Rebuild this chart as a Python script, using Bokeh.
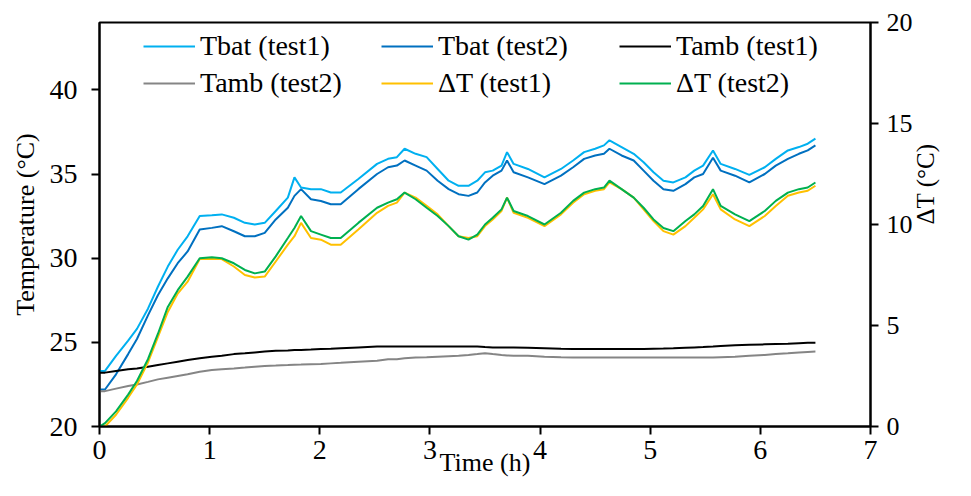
import math
from bokeh.plotting import figure
from bokeh.models import Range1d, LinearAxis, FixedTicker, Legend, LegendItem
from bokeh.embed import file_html
from bokeh.resources import INLINE

# ---- data ----
time_h = [0, 0.05, 0.15, 0.26, 0.34, 0.44, 0.53, 0.62, 0.71, 0.80,
          0.91, 1.02, 1.11, 1.22, 1.32, 1.41, 1.50, 1.60, 1.71, 1.77,
          1.83, 1.92, 2.01, 2.10, 2.19, 2.35, 2.52, 2.62, 2.70, 2.77,
          2.87, 2.97, 3.07, 3.17, 3.26, 3.35, 3.43, 3.50, 3.57, 3.65,
          3.70, 3.76, 3.89, 4.04, 4.19, 4.30, 4.40, 4.50, 4.58, 4.63,
          4.74, 4.85, 4.94, 5.03, 5.12, 5.21, 5.32, 5.40, 5.48, 5.57,
          5.64, 5.77, 5.90, 6.04, 6.14, 6.25, 6.35, 6.43, 6.50]

tbat_test1 = [23.3, 23.3, 24.2, 25.1, 25.8, 27.0, 28.3, 29.5, 30.5, 31.3,
              32.5, 32.55, 32.6, 32.4, 32.1, 32.0, 32.1, 32.8, 33.6, 34.8,
              34.2, 34.1, 34.1, 33.9, 33.9, 34.7, 35.6, 35.9, 36.0, 36.5,
              36.2, 36.0, 35.3, 34.6, 34.3, 34.3, 34.6, 35.1, 35.2, 35.5,
              36.3, 35.6, 35.3, 34.8, 35.3, 35.8, 36.3, 36.5, 36.7, 37.0,
              36.6, 36.2, 35.7, 35.1, 34.6, 34.5, 34.8, 35.2, 35.5, 36.4,
              35.6, 35.3, 34.95, 35.4, 35.9, 36.4, 36.6, 36.8, 37.1]

tbat_test2 = [22.2, 22.2, 23.1, 24.3, 25.2, 26.6, 27.8, 28.8, 29.7, 30.4,
              31.7, 31.8, 31.9, 31.6, 31.3, 31.3, 31.5, 32.3, 33.0, 33.7,
              34.1, 33.5, 33.4, 33.2, 33.2, 34.1, 35.0, 35.4, 35.5, 35.8,
              35.5, 35.2, 34.6, 34.1, 33.8, 33.7, 33.9, 34.5, 34.9, 35.2,
              35.8, 35.1, 34.8, 34.4, 34.9, 35.4, 35.9, 36.1, 36.2, 36.5,
              36.1, 35.8, 35.2, 34.6, 34.1, 34.0, 34.4, 34.8, 35.0, 35.96,
              35.2, 34.9, 34.5, 35.0, 35.5, 35.9, 36.2, 36.4, 36.7]

tamb_test1 = [23.2, 23.2, 23.3, 23.4, 23.45, 23.55, 23.65, 23.75, 23.85, 23.95,
              24.05, 24.15, 24.2, 24.3, 24.35, 24.4, 24.45, 24.5, 24.52, 24.55,
              24.55, 24.57, 24.6, 24.62, 24.65, 24.7, 24.75, 24.75, 24.75, 24.75,
              24.75, 24.75, 24.75, 24.75, 24.75, 24.75, 24.75, 24.72, 24.7, 24.7,
              24.7, 24.7, 24.68, 24.65, 24.62, 24.6, 24.6, 24.6, 24.6, 24.6,
              24.6, 24.6, 24.6, 24.62, 24.63, 24.65, 24.68, 24.7, 24.72, 24.75,
              24.78, 24.82, 24.85, 24.88, 24.9, 24.92, 24.95, 24.97, 24.98]

tamb_test2 = [22.1, 22.1, 22.25, 22.4, 22.5, 22.65, 22.8, 22.9, 23.0, 23.1,
              23.25, 23.35, 23.4, 23.45, 23.5, 23.55, 23.6, 23.62, 23.65, 23.67,
              23.68, 23.7, 23.72, 23.75, 23.78, 23.85, 23.9, 24.0, 24.0, 24.05,
              24.1, 24.12, 24.15, 24.18, 24.2, 24.25, 24.3, 24.35, 24.3, 24.25,
              24.22, 24.2, 24.2, 24.15, 24.12, 24.1, 24.1, 24.1, 24.1, 24.1,
              24.1, 24.1, 24.1, 24.1, 24.1, 24.1, 24.1, 24.1, 24.1, 24.1,
              24.12, 24.15, 24.2, 24.25, 24.3, 24.35, 24.4, 24.43, 24.45]

dt_test1 = [0, 0, 0.58, 1.42, 2.08, 3.17, 4.42, 5.67, 6.58, 7.17,
            8.29, 8.29, 8.29, 7.92, 7.5, 7.38, 7.42, 8.17, 9.0, 9.42,
            10.08, 9.33, 9.25, 9.0, 9.0, 9.75, 10.58, 10.92, 11.08, 11.58,
            11.33, 10.92, 10.5, 9.92, 9.42, 9.33, 9.42, 9.92, 10.25, 10.67,
            11.33, 10.58, 10.33, 9.92, 10.5, 11.08, 11.5, 11.67, 11.75, 12.08,
            11.75, 11.33, 10.75, 10.17, 9.67, 9.5, 9.92, 10.33, 10.75, 11.5,
            10.75, 10.25, 9.92, 10.42, 10.92, 11.42, 11.58, 11.67, 11.92]

dt_test2 = [0, 0.17, 0.75, 1.58, 2.25, 3.33, 4.58, 5.92, 6.75, 7.42,
            8.33, 8.38, 8.33, 8.08, 7.75, 7.58, 7.67, 8.42, 9.33, 9.83,
            10.42, 9.67, 9.5, 9.33, 9.33, 10.08, 10.83, 11.08, 11.25, 11.58,
            11.25, 10.83, 10.42, 9.92, 9.42, 9.25, 9.5, 10.0, 10.33, 10.75,
            11.33, 10.67, 10.42, 10.0, 10.58, 11.17, 11.58, 11.75, 11.83, 12.17,
            11.75, 11.33, 10.83, 10.25, 9.83, 9.67, 10.17, 10.5, 10.92, 11.75,
            10.92, 10.5, 10.17, 10.67, 11.17, 11.58, 11.75, 11.83, 12.08]

x_ticks = [0, 1, 2, 3, 4, 5, 6, 7]
left_ticks = [20, 25, 30, 35, 40]
right_ticks = [0, 5, 10, 15, 20]

FONT = "Liberation Serif"

p = figure(width=955, height=480, output_backend="svg", toolbar_location=None,
           x_range=Range1d(0, 7), y_range=Range1d(20, 44))
p.min_border_left = 99
p.min_border_right = 74
p.min_border_top = 22
p.min_border_bottom = 54
p.extra_y_ranges = {"dT": Range1d(0, 20)}
p.background_fill_color = "white"
p.border_fill_color = "white"
p.outline_line_color = "black"
p.outline_line_width = 2
p.xgrid.visible = False
p.ygrid.visible = False

def style_axis(ax, ticks, tick_size="28px", label_size="26px"):
    ax.ticker = FixedTicker(ticks=ticks)
    ax.minor_tick_line_color = None
    ax.major_tick_in = 0
    ax.major_tick_out = 8
    ax.major_tick_line_width = 2
    ax.major_tick_line_color = "black"
    ax.axis_line_width = 2
    ax.axis_line_color = "black"
    ax.major_label_text_font = FONT
    ax.major_label_text_font_size = tick_size
    ax.major_label_text_color = "black"
    ax.axis_label_text_font = FONT
    ax.axis_label_text_font_size = label_size
    ax.axis_label_text_font_style = "normal"
    ax.axis_label_text_color = "black"

xa = p.xaxis[0]
style_axis(xa, x_ticks, label_size="26px")
xa.axis_label = "Time (h)"
xa.major_label_standoff = 6
xa.axis_label_standoff = -14

ya = p.yaxis[0]
style_axis(ya, left_ticks)
ya.axis_label = "Temperature (°C)"
ya.major_label_standoff = 14
ya.axis_label_standoff = 7

ra = LinearAxis(y_range_name="dT")
style_axis(ra, right_ticks, tick_size="26px", label_size="25px")
ra.major_label_standoff = 8
ra.axis_label = "ΔT (°C)"
# read bottom-to-top, as in the reference
ra.axis_label_orientation = math.pi / 2
ra.axis_label_standoff = 10
p.add_layout(ra, "right")

lw = 2
r1 = p.line(time_h, tbat_test1, line_color="#00B0F0", line_width=lw)
r2 = p.line(time_h, tbat_test2, line_color="#0070C0", line_width=lw)
r3 = p.line(time_h, tamb_test1, line_color="black", line_width=lw)
r4 = p.line(time_h, tamb_test2, line_color="#858585", line_width=lw)
r5 = p.line(time_h, dt_test1, line_color="#FFC000", line_width=lw, y_range_name="dT")
r6 = p.line(time_h, dt_test2, line_color="#00B050", line_width=lw, y_range_name="dT")

def make_legend(items, y):
    lg = Legend(items=items, orientation="horizontal", location=(44, y),
                glyph_width=52, glyph_height=30, label_height=30, label_width=180,
                label_standoff=5, spacing=1, padding=0, margin=0,
                label_text_font=FONT, label_text_font_size="28px",
                label_text_color="black",
                background_fill_alpha=0, border_line_alpha=0)
    return lg

leg1 = make_legend([LegendItem(label="Tbat (test1)", renderers=[r1]),
                    LegendItem(label="Tbat (test2)", renderers=[r2]),
                    LegendItem(label="Tamb (test1)", renderers=[r3])], 364)
leg2 = make_legend([LegendItem(label="Tamb (test2)", renderers=[r4]),
                    LegendItem(label="ΔT (test1)", renderers=[r5]),
                    LegendItem(label="ΔT (test2)", renderers=[r6])], 327)
p.add_layout(leg1, "center")
p.add_layout(leg2, "center")

open("out.html", "w").write(file_html(p, INLINE))
